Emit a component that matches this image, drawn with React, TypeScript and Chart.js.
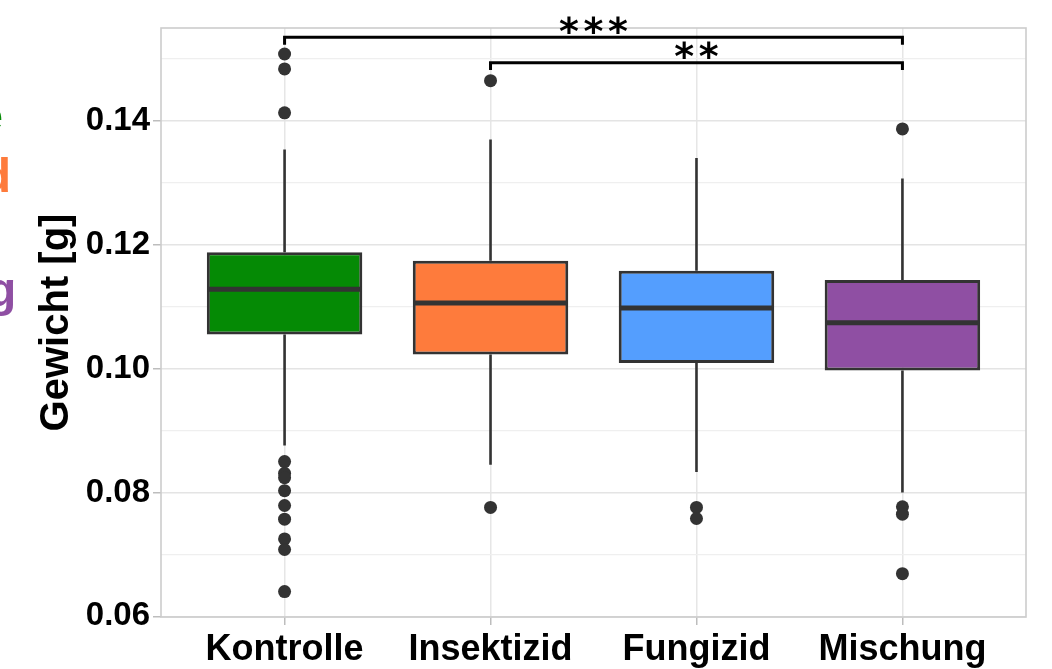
import { useEffect, useRef } from 'react';
import { Chart, registerables } from 'chart.js';

Chart.register(...registerables);

const FONT = '"Liberation Sans", Arial, Helvetica, sans-serif';
const STAR_FONT = '"DejaVu Sans", "Liberation Sans", sans-serif';

const categories = ['Kontrolle', 'Insektizid', 'Fungizid', 'Mischung'];
const boxColors = ['#058a05', '#fe7b3c', '#549efe', '#8f4fa3'];

const q1 = [0.1055, 0.1023, 0.1009, 0.0997];
const medians = [0.1128, 0.1106, 0.1098, 0.1074];
const q3 = [0.1188, 0.1174, 0.1158, 0.1143];
const whiskerLow = [0.0876, 0.0845, 0.0833, 0.08];
const whiskerHigh = [0.1354, 0.137, 0.134, 0.1307];

const outliersKontrolle = [0.1508, 0.1484, 0.1413, 0.085, 0.0831, 0.0824, 0.0803, 0.0779, 0.0757, 0.0725, 0.0708, 0.064];
const outliersInsektizid = [0.1465, 0.0776];
const outliersFungizid = [0.0776, 0.0758];
const outliersMischung = [0.1387, 0.0777, 0.0765, 0.0669];
const outliers = [outliersKontrolle, outliersInsektizid, outliersFungizid, outliersMischung];

const yTickValues = [0.06, 0.07, 0.08, 0.09, 0.1, 0.11, 0.12, 0.13, 0.14, 0.15];
const yTickLabels = ['0.06', '', '0.08', '', '0.10', '', '0.12', '', '0.14', ''];

const bracketFrom = [0, 1];
const bracketTo = [3, 3];
const bracketTop = [0.1535, 0.1494];
const bracketTip = [0.1523, 0.1482];
const bracketLabels = ['***', '**'];

const HALF = 0.375;

export default function App() {
  const ref = useRef<HTMLCanvasElement | null>(null);

  useEffect(() => {
    document.body.style.margin = '0';
    const canvas = ref.current;
    if (!canvas) return;

    const boxData = categories.map((_, i) => ({ x: i + 1, y: [q1[i], q3[i]] }));
    const whiskerData: any[] = [];
    const medianData: any[] = [];
    categories.forEach((_, i) => {
      whiskerData.push({ x: i + 1, y: q3[i] }, { x: i + 1, y: whiskerHigh[i] }, { x: i + 1, y: null });
      whiskerData.push({ x: i + 1, y: q1[i] }, { x: i + 1, y: whiskerLow[i] }, { x: i + 1, y: null });
      medianData.push({ x: i + 1 - HALF, y: medians[i] }, { x: i + 1 + HALF, y: medians[i] }, { x: i + 1, y: null });
    });
    const outlierData: any[] = [];
    outliers.forEach((arr, i) => arr.forEach((v) => outlierData.push({ x: i + 1, y: v })));
    const bracketData: any[] = [];
    bracketFrom.forEach((f, i) => {
      const t = bracketTo[i];
      bracketData.push(
        { x: f + 1, y: bracketTip[i] },
        { x: f + 1, y: bracketTop[i] },
        { x: t + 1, y: bracketTop[i] },
        { x: t + 1, y: bracketTip[i] },
        { x: t + 1, y: null }
      );
    });

    const extras = {
      id: 'extras',
      beforeDatasetsDraw(chart: any) {
        const { ctx, chartArea } = chart;
        ctx.save();
        ctx.strokeStyle = '#cccccc';
        ctx.lineWidth = 1.6;
        ctx.strokeRect(chartArea.left, chartArea.top, chartArea.right - chartArea.left, chartArea.bottom - chartArea.top);
        ctx.restore();
      },
      afterDraw(chart: any) {
        const { ctx, scales } = chart;
        const xs = scales.x;
        const ys = scales.y;
        ctx.save();
        ctx.fillStyle = '#000';
        ctx.textAlign = 'center';
        ctx.textBaseline = 'alphabetic';
        ctx.font = `bold 38px ${STAR_FONT}`;
        const pitch = 24.5;
        bracketLabels.forEach((lab, i) => {
          const cx = xs.getPixelForValue((bracketFrom[i] + bracketTo[i]) / 2 + 1);
          const cy = ys.getPixelForValue(bracketTop[i]);
          const chars = lab.split('');
          chars.forEach((ch, k) => {
            ctx.fillText(ch, cx + (k - (chars.length - 1) / 2) * pitch, cy + 6.5);
          });
        });
        // legend words cut off at the left edge of the picture
        ctx.font = `bold 48px ${FONT}`;
        ctx.textAlign = 'left';
        const startX = 3 - ctx.measureText(categories[0]).width;
        const baselines = [132, 192, 250, 306];
        categories.forEach((c, i) => {
          ctx.fillStyle = boxColors[i];
          ctx.fillText(c, startX, baselines[i]);
        });
        ctx.restore();
      },
    };

    const chart = new Chart(canvas, {
      type: 'bar',
      data: {
        datasets: [
          {
            type: 'line',
            data: medianData,
            borderColor: '#333333',
            borderWidth: 5,
            borderCapStyle: 'butt',
            pointRadius: 0,
            spanGaps: false,
            order: 0,
          } as any,
          {
            type: 'bar',
            data: boxData as any,
            backgroundColor: boxColors,
            borderColor: '#333333',
            borderWidth: 3,
            borderSkipped: false,
            barPercentage: 0.755,
            categoryPercentage: 1,
            order: 1,
          } as any,
          {
            type: 'line',
            data: whiskerData,
            borderColor: '#333333',
            borderWidth: 2.6,
            pointRadius: 0,
            spanGaps: false,
            order: 2,
          } as any,
          {
            type: 'scatter',
            data: outlierData,
            backgroundColor: '#333333',
            borderWidth: 0,
            pointRadius: 6.5,
            order: 0,
          } as any,
          {
            type: 'line',
            data: bracketData,
            borderColor: '#000000',
            borderWidth: 3,
            pointRadius: 0,
            spanGaps: false,
            borderJoinStyle: 'miter',
            order: 0,
          } as any,
        ],
      },
      options: {
        animation: false,
        responsive: false,
        maintainAspectRatio: false,
        layout: { padding: { left: 33, top: 28, right: 26, bottom: 0 } },
        plugins: { legend: { display: false }, tooltip: { enabled: false } },
        scales: {
          x: {
            type: 'linear',
            min: 0.4,
            max: 4.6,
            offset: false,
            afterBuildTicks: (scale: any) => {
              scale.ticks = categories.map((_, i) => ({ value: i + 1 }));
            },
            afterFit: (scale: any) => {
              scale.height = 52;
            },
            grid: {
              offset: false,
              color: '#e6e6e6',
              lineWidth: 1.5,
              tickLength: 8,
              tickColor: '#bdbdbd',
              tickWidth: 1.5,
            },
            border: { display: false },
            ticks: {
              autoSkip: false,
              maxRotation: 0,
              padding: 3,
              color: '#000',
              font: { family: FONT, size: 36, weight: 'bold' },
              callback: (v: any) => categories[Number(v) - 1] ?? '',
            },
          },
          y: {
            type: 'linear',
            min: 0.0599,
            max: 0.155,
            beginAtZero: false,
            afterBuildTicks: (scale: any) => {
              scale.ticks = yTickValues.map((v) => ({ value: v }));
            },
            afterFit: (scale: any) => {
              scale.width = 128;
            },
            grid: {
              color: (c: any) => (c.index % 2 === 0 ? '#e4e4e4' : '#efefef'),
              lineWidth: (c: any) => (c.index % 2 === 0 ? 1.5 : 1.2),
              tickLength: 8,
              tickColor: (c: any) => (c.index % 2 === 0 ? '#bdbdbd' : 'rgba(0,0,0,0)'),
              tickWidth: 1.5,
            },
            border: { display: false },
            ticks: {
              autoSkip: false,
              padding: 3,
              color: '#000',
              font: { family: FONT, size: 33, weight: 'bold' },
              callback: (_v: any, i: number) => yTickLabels[i] ?? '',
            },
            title: {
              display: true,
              text: 'Gewicht [g]',
              color: '#000',
              padding: { top: 0, bottom: 0 },
              font: { family: FONT, size: 40, weight: 'bold' },
            },
          },
        },
      },
      plugins: [extras],
    } as any);

    return () => chart.destroy();
  }, []);

  return <canvas ref={ref} width={1052} height={669} style={{ display: 'block' }} />;
}
